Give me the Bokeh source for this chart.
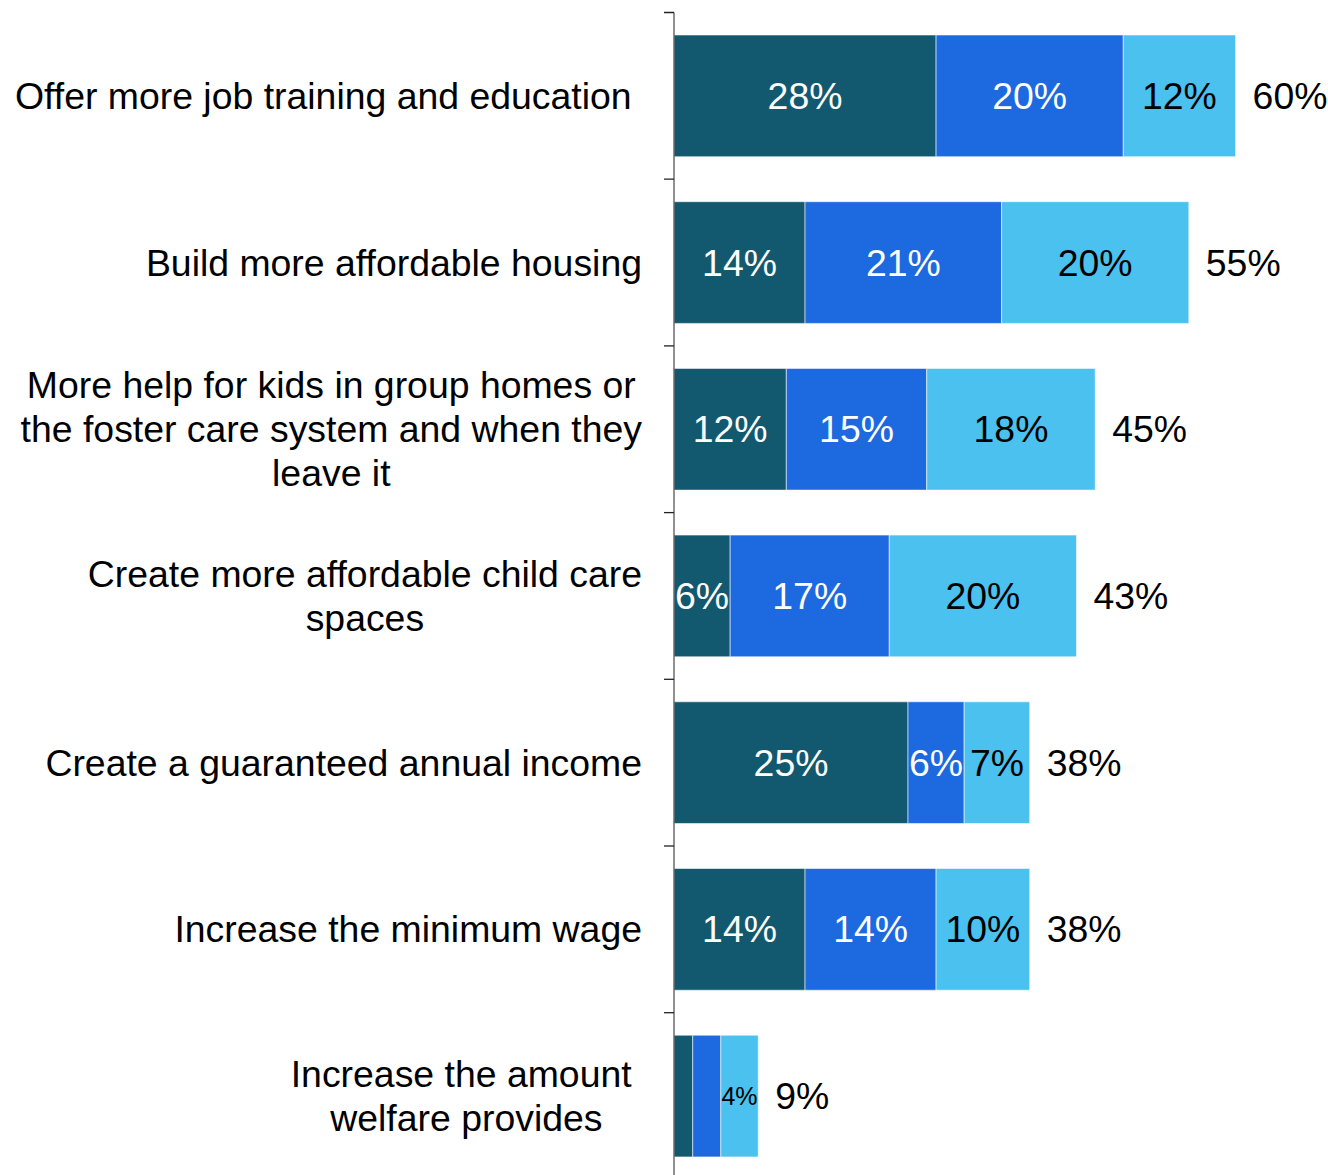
import math
from bokeh.plotting import figure
from bokeh.models import ColumnDataSource, Range1d
from bokeh.core.properties import value
from bokeh.embed import file_html
from bokeh.resources import INLINE

# ---- data -------------------------------------------------------------
categories = [
    "Offer more job training and education ",
    "Build more affordable housing",
    "More help for kids in group homes or\nthe foster care system and when they\nleave it",
    "Create more affordable child care\nspaces",
    "Create a guaranteed annual income",
    "Increase the minimum wage",
    "Increase the amount \nwelfare provides",
]
seg_dark = [28, 14, 12, 6, 25, 14, 2]
seg_mid = [20, 21, 15, 17, 6, 14, 3]
seg_light = [12, 20, 18, 20, 7, 10, 4]
totals = [60, 55, 45, 43, 38, 38, 9]

# ---- style ------------------------------------------------------------
DARK = "#12596F"
MID = "#1D69E0"
LIGHT = "#4BC1EF"
FONT = value("Liberation Sans")
BIG = "37.4px"
SMALL = "25px"

W, H = 1328, 1175
PX_PER_UNIT = 9.36
AXIS_PX = 673.5
BAND_PX = 166.7
TOP_PAD = 12

n = len(categories)
ys = list(range(n))

x_start = -AXIS_PX / PX_PER_UNIT
x_end = (W - AXIS_PX) / PX_PER_UNIT
y_end = -0.5 - TOP_PAD / BAND_PX
y_start = y_end + H / BAND_PX

p = figure(width=W, height=H, output_backend="svg", toolbar_location=None,
           x_range=Range1d(x_start, x_end), y_range=Range1d(y_start, y_end),
           x_axis_type=None, y_axis_type=None, min_border=0)
p.outline_line_color = None
p.xgrid.visible = False
p.ygrid.visible = False
p.background_fill_color = "white"
p.border_fill_color = "white"

segments = [(seg_dark, DARK, "white"), (seg_mid, MID, "white"), (seg_light, LIGHT, "black")]
left = [0] * n
for vals, fill, tcol in segments:
    right = [l + v for l, v in zip(left, vals)]
    labels = [f"{v}%" if v >= 4 else "" for v in vals]
    sizes = [BIG if v >= 5 else SMALL for v in vals]
    src = ColumnDataSource(dict(y=ys, l=left, r=right,
                                cx=[(a + b) / 2 for a, b in zip(left, right)],
                                lab=labels, fs=sizes))
    p.hbar(y="y", left="l", right="r", height=0.73, source=src,
           fill_color=fill, line_color="white", line_alpha=0.55, line_width=1)
    p.text(x="cx", y="y", text="lab", source=src, text_align="center",
           text_baseline="middle", text_font=FONT, text_font_size="fs",
           text_color=tcol)
    left = right

# totals
tsrc = ColumnDataSource(dict(x=totals, y=ys, t=[f"{v}%" for v in totals]))
p.text(x="x", y="y", text="t", source=tsrc, x_offset=17, text_align="left",
       text_baseline="middle", text_font=FONT, text_font_size=BIG,
       text_color="black")

# category labels
csrc = ColumnDataSource(dict(x=[0] * n, y=ys, t=categories))
p.text(x="x", y="y", text="t", source=csrc, x_offset=-32, anchor="center_right",
       text_align="center", text_baseline="middle", text_font=FONT,
       text_font_size=BIG, text_line_height=1.05, text_color="black")

# axis line and ticks at category boundaries
p.segment(x0=[0], y0=[-0.5], x1=[0], y1=[n - 0.5], line_color="#555555", line_width=1.3)
bounds = [i - 0.5 for i in range(n + 1)]
p.ray(x=[0] * len(bounds), y=bounds, length=10, angle=math.pi,
      length_units="screen", line_color="#222222", line_width=1.3)

open("out.html", "w").write(file_html(p, INLINE))
